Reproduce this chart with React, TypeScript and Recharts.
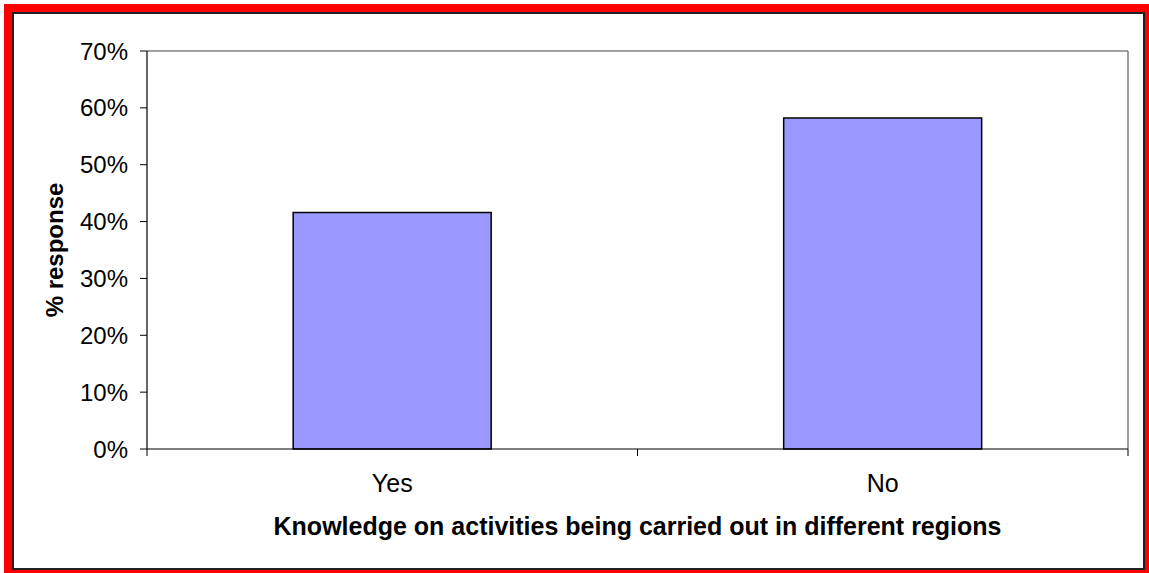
import React from 'react';
import { BarChart, Bar, XAxis, YAxis, Label, ReferenceLine } from 'recharts';

const categories = ['Yes', 'No'];
const responseShare = [0.416, 0.582];
const yTicks = [0, 0.1, 0.2, 0.3, 0.4, 0.5, 0.6, 0.7];
const yMax = 0.7;
const yTitle = '% response';
const xTitle = 'Knowledge on activities being carried out in different regions';

const data = categories.map((c, i) => ({ category: c, value: responseShare[i] }));

const FONT = '"Liberation Sans", Arial, sans-serif';
const X_TICK_MARGIN = 25;
const X_TICK_LEN = 7;

const pct = (v: number) => `${Math.round(v * 100)}%`;

const CategoryTick = (props: any) => {
  const { x, y, payload, index } = props;
  const half = payload && payload.offset ? payload.offset : 0;
  const axisY = y - X_TICK_MARGIN;
  return (
    <g>
      {index === 0 && (
        <line x1={x - half} y1={axisY} x2={x - half} y2={axisY + X_TICK_LEN} stroke="#000000" strokeWidth={1} />
      )}
      <line x1={x + half} y1={axisY} x2={x + half} y2={axisY + X_TICK_LEN} stroke="#000000" strokeWidth={1} />
      <text
        x={x}
        y={y}
        dy="0.71em"
        textAnchor="middle"
        fontSize={25}
        fill="#000000"
        fontFamily={FONT}
      >
        {payload.value}
      </text>
    </g>
  );
};

export default function App() {
  return (
    <>
      <div
        style={{
          position: 'absolute',
          left: 4,
          top: 4,
          width: 1145,
          height: 569,
          background: '#ff0000',
        }}
      />
      <div
        style={{
          position: 'absolute',
          left: 12,
          top: 12,
          width: 1133,
          height: 558,
          boxSizing: 'border-box',
          background: '#ffffff',
          border: '2px solid #222222',
        }}
      />
      <div style={{ position: 'absolute', left: 0, top: 0, width: 1149, height: 573 }}>
        <BarChart
          width={1149}
          height={573}
          data={data}
          margin={{ top: 51, right: 21, bottom: 0, left: 0 }}
          barCategoryGap="29.8%"
          style={{ fontFamily: FONT }}
        >
          <XAxis
            xAxisId="cat"
            dataKey="category"
            height={124}
            axisLine={{ stroke: '#000000', strokeWidth: 1.2 }}
            tickLine={false}
            tickSize={0}
            tickMargin={X_TICK_MARGIN}
            tick={<CategoryTick />}
          >
            <Label
              content={(props: any) => {
                const vb = props.viewBox || {};
                return (
                  <text
                    x={vb.x + vb.width / 2}
                    y={vb.y + 86}
                    textAnchor="middle"
                    fontSize={25}
                    fontWeight="bold"
                    fill="#000000"
                    fontFamily={FONT}
                  >
                    {xTitle}
                  </text>
                );
              }}
            />
          </XAxis>
          <YAxis
            yAxisId="left"
            domain={[0, yMax]}
            ticks={yTicks}
            width={147}
            tickFormatter={pct}
            tickSize={7}
            tickMargin={12}
            axisLine={{ stroke: '#000000', strokeWidth: 1.2 }}
            tickLine={{ stroke: '#000000' }}
            tick={{ fontSize: 24, fill: '#000000', fontFamily: FONT }}
          >
            <Label
              content={(props: any) => {
                const vb = props.viewBox || {};
                const cx = vb.x + 54;
                const cy = vb.y + vb.height / 2;
                return (
                  <text
                    x={cx}
                    y={cy}
                    transform={`rotate(-90 ${cx} ${cy})`}
                    textAnchor="middle"
                    dominantBaseline="central"
                    fontSize={24}
                    fontWeight="bold"
                    fill="#000000"
                    fontFamily={FONT}
                  >
                    {yTitle}
                  </text>
                );
              }}
            />
          </YAxis>
          <ReferenceLine
            xAxisId="cat"
            yAxisId="left"
            y={yMax}
            stroke="#808080"
            strokeWidth={1.5}
          />
          <ReferenceLine
            xAxisId="cat"
            yAxisId="left"
            x={categories[categories.length - 1]}
            position="end"
            stroke="#808080"
            strokeWidth={1.5}
          />
          <Bar
            dataKey="value"
            xAxisId="cat"
            yAxisId="left"
            fill="#9999ff"
            stroke="#000000"
            strokeWidth={1.5}
            isAnimationActive={false}
          />
        </BarChart>
      </div>
    </>
  );
}
